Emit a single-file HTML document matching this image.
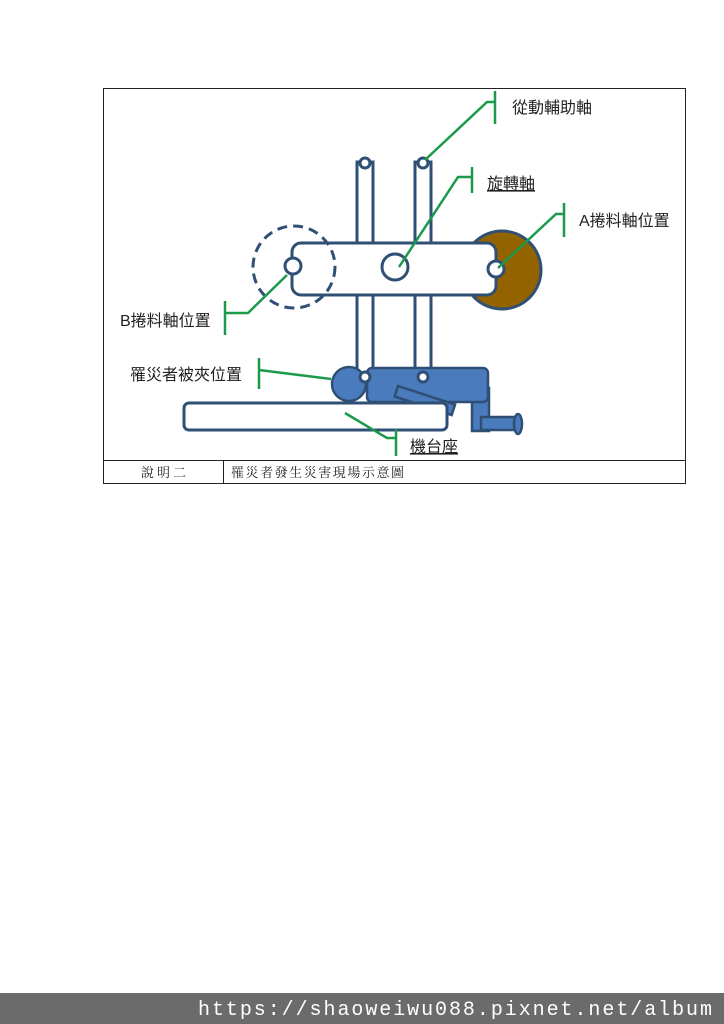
<!DOCTYPE html>
<html><head><meta charset="utf-8"><style>
html,body{margin:0;padding:0;background:#fff;width:724px;height:1024px;overflow:hidden}
svg{display:block}
</style></head><body>
<svg width="724" height="1024" viewBox="0 0 724 1024" xmlns="http://www.w3.org/2000/svg" font-family="'Liberation Sans','Noto Sans CJK TC',sans-serif">
<rect x="103.5" y="88.5" width="582" height="395" fill="none" stroke="#222" stroke-width="1"/>
<line x1="103" y1="460.5" x2="686" y2="460.5" stroke="#222"/>
<line x1="223.5" y1="460" x2="223.5" y2="483" stroke="#222"/>
<text x="141" y="477" font-size="13" font-family="'Noto Serif CJK SC',serif" fill="#222" textLength="45">說明二</text>
<text x="231" y="477" font-size="13" font-family="'Noto Serif CJK SC',serif" fill="#222" textLength="173">罹災者發生災害現場示意圖</text>
<g stroke="#2f4f74" stroke-width="3">
<circle cx="502" cy="270" r="39" fill="#936300"/>
<rect x="357" y="162" width="16" height="216" fill="#fff"/>
<rect x="415" y="162" width="16" height="216" fill="#fff"/>
<circle cx="365" cy="163" r="5" fill="#fff"/>
<circle cx="423" cy="163" r="5" fill="#fff"/>
<rect x="292" y="243" width="204" height="52" rx="9" fill="#fff"/>
<circle cx="294" cy="267" r="41" fill="none" stroke-dasharray="10 6"/>
<circle cx="293" cy="266" r="8" fill="#fff"/>
<circle cx="395" cy="267" r="13" fill="#fff"/>
<circle cx="496" cy="269" r="8" fill="#fff"/>
</g>
<g stroke="#2f4f74" stroke-width="2.5" fill="#4a7bbd">
<rect x="472" y="388" width="17" height="43"/>
<rect x="367" y="368" width="121" height="34" rx="5"/>
<circle cx="349" cy="384" r="17"/>
<rect x="398" y="386" width="60" height="11" transform="rotate(18 398 386)"/>
<rect x="481" y="417" width="34" height="13"/>
<ellipse cx="518" cy="424" rx="4" ry="10"/>
</g>
<g stroke="#2f4f74" stroke-width="3">
<rect x="184" y="403" width="263" height="27" rx="5" fill="#fff"/>
<circle cx="365" cy="377" r="5" fill="#fff"/>
<circle cx="423" cy="377" r="5" fill="#fff"/>
</g>
<g stroke="#1a9a4a" stroke-width="2.5" fill="none">
<polyline points="425,160 487,102 495,102"/><line x1="495" y1="91" x2="495" y2="124"/>
<polyline points="399,267 458,177 472,177"/><line x1="472" y1="167" x2="472" y2="193"/>
<polyline points="498,268 556,214 564,214"/><line x1="564" y1="203" x2="564" y2="237"/>
<polyline points="287,275 248,313 225,313"/><line x1="225" y1="301" x2="225" y2="335"/>
<polyline points="331,379 259,370"/><line x1="259" y1="358" x2="259" y2="389"/>
<polyline points="345,413 387,438 396,438"/><line x1="396" y1="429" x2="396" y2="456"/>
</g>
<g font-size="16" fill="#222">
<text x="512" y="113">從動輔助軸</text>
<text x="487" y="189" text-decoration="underline">旋轉軸</text>
<text x="579" y="226">A捲料軸位置</text>
<text x="120" y="326">B捲料軸位置</text>
<text x="130" y="380">罹災者被夾位置</text>
<text x="410" y="452" text-decoration="underline">機台座</text>
</g>
<rect x="0" y="993" width="724" height="31" fill="#6b6b6b"/>
<text x="198" y="1015" font-family="'Liberation Mono',monospace" font-size="20" fill="#fff" textLength="514" lengthAdjust="spacing">https://shaoweiwu088.pixnet.net/album</text>
</svg>
</body></html>
